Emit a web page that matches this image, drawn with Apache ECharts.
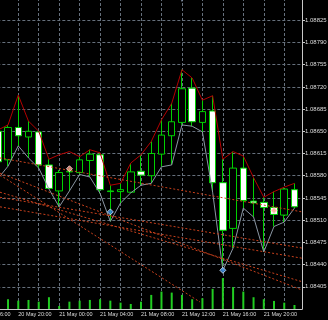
<!DOCTYPE html>
<html><head><meta charset="utf-8">
<script src="https://cdn.jsdelivr.net/npm/echarts@6/dist/echarts.min.js"></script>
<style>html,body{margin:0;padding:0;background:#000;overflow:hidden;width:328px;height:320px;position:relative;}
#c{position:absolute;left:-30px;top:-10px;width:358px;height:330px;}</style>
</head><body><div id="c"></div>
<script>
// Hourly bars, index 0 = 20 May 18:00
const candleIdx = [0,1,2,3,4,5,6,7,8,9,10,11,12,13,14,15,16,17,18,19,20,21,22,23,24,25,26,27,28,29];
const opens  = [1.08650,1.08605,1.08656,1.08641,1.08649,1.08597,1.08556,1.08586,1.08585,1.08604,1.08613,1.08556,1.08555,1.08554,1.08587,1.08580,1.08614,1.08643,1.08664,1.08718,1.08664,1.08682,1.08569,1.08497,1.08592,1.08540,1.08538,1.08530,1.08518,1.08558];
const highs  = [1.08652,1.08660,1.08707,1.08666,1.08650,1.08606,1.08589,1.08592,1.08610,1.08621,1.08616,1.08565,1.08568,1.08600,1.08613,1.08634,1.08668,1.08694,1.08747,1.08734,1.08699,1.08706,1.08606,1.08618,1.08611,1.08577,1.08546,1.08555,1.08562,1.08568];
const lows   = [1.08575,1.08595,1.08627,1.08608,1.08592,1.08559,1.08531,1.08556,1.08582,1.08578,1.08552,1.08508,1.08537,1.08553,1.08565,1.08568,1.08594,1.08597,1.08660,1.08658,1.08649,1.08554,1.08431,1.08466,1.08529,1.08515,1.08460,1.08500,1.08507,1.08529];
const closes = [1.08602,1.08656,1.08643,1.08650,1.08597,1.08560,1.08585,1.08587,1.08605,1.08614,1.08558,1.08555,1.08558,1.08586,1.08581,1.08615,1.08644,1.08665,1.08717,1.08665,1.08681,1.08569,1.08494,1.08592,1.08541,1.08537,1.08530,1.08519,1.08559,1.08531];
// red line (upper) values
const upperLine = [1.08652,1.08660,1.08707,1.08666,1.08650,1.08606,1.08613,1.08618,1.08610,1.08621,1.08616,1.08565,1.08568,1.08600,1.08613,1.08634,1.08668,1.08694,1.08747,1.08734,1.08699,1.08706,1.08606,1.08618,1.08611,1.08577,1.08546,1.08555,1.08562,1.08568];
// tick volumes
const volumes = [1500,1940,1660,1800,1460,2340,600,1460,1660,1800,1940,1660,1260,1000,1460,2800,3460,3260,2800,1940,2140,4000,6140,4340,3460,2340,1940,1600,1260,800];
// x tick labels (bar index where each label starts)
const labelIdx  = [-2,2,6,10,14,18,22,26];
const labelText = ['20 May 16:00','20 May 20:00','21 May 00:00','21 May 04:00','21 May 08:00','21 May 12:00','21 May 16:00','21 May 20:00'];
// price axis
const basePrice = 1.08405;
// dotted trade/trend lines: [startIdx, startPrice, endIdx, endPrice]
const trendLines = [
  [0.215,1.08608,29.74,1.08523],
  [0.215,1.08546,29.74,1.08466],
  [0.215,1.08531,29.74,1.08450],
  [0.215,1.08554,29.74,1.08413],
  [0.215,1.08581,19.77,1.08381],
  [0.215,1.08584,29.74,1.08400]
];
// trade arrows
const sellMarks = [[7,1.08591],[27,1.08525]];
const buyMarks  = [[11,1.08523],[22,1.08431]];
const topMarks  = [[18,1.08858]];

const U = p => Math.round((p - basePrice) * 1e6) / 10;   // price -> points (1e-5)
const candleData = candleIdx.map((x,k)=>[x, U(opens[k]), U(closes[k]), U(lows[k]), U(highs[k])]);
const upperData = candleIdx.map((x,k)=>[x, U(upperLine[k])]);
const lowerData = candleIdx.map((x,k)=>[x, U(lows[k])]);
const volData = candleIdx.map((x,k)=>[x, volumes[k]]);
const gridCol = '#66707c';
const txtCol = '#dcdcdc';

const series = [
  {type:'bar', xAxisIndex:0, yAxisIndex:1, data:volData, barWidth:2, itemStyle:{color:'#22cc22'}, z:1, silent:true},
  {type:'candlestick', data:candleData, encode:{x:0,y:[1,2,3,4]}, barWidth:7, z:3,
    itemStyle:{color:'#000000', color0:'#ffffff', borderColor:'#00d000', borderColor0:'#00d000', borderWidth:1}},
  {type:'line', data:upperData, showSymbol:false, symbol:'none', lineStyle:{color:'#b40000', width:1}, z:4, silent:true},
  {type:'line', data:lowerData, showSymbol:false, symbol:'none', lineStyle:{color:'#8a96a3', width:1}, z:4, silent:true}
];
trendLines.forEach(t=>{
  series.push({type:'line', data:[[t[0],U(t[1])],[t[2],U(t[3])]], symbol:'none', lineStyle:{color:'#c8401c', width:1, type:[2,2]}, z:5, silent:true});
});
series.push({type:'scatter', data:sellMarks.map(m=>[m[0],U(m[1])]), symbol:'diamond', symbolSize:6, itemStyle:{color:'#ff9a8a', borderColor:'#ffe0d8', borderWidth:1}, z:6});
series.push({type:'scatter', data:buyMarks.map(m=>[m[0],U(m[1])]), symbol:'diamond', symbolSize:6, itemStyle:{color:'#3c8ee8', borderColor:'#d8ecff', borderWidth:1}, z:6});
series.push({type:'scatter', data:topMarks.map(m=>[m[0],U(m[1])]), symbol:'triangle', symbolRotate:180, symbolSize:6, itemStyle:{color:'#8a9ab0'}, z:6, clip:false});

const chart = echarts.init(document.getElementById('c'), null, {renderer:'canvas'});
chart.setOption({
  backgroundColor:'#000000',
  animation:false,
  grid:{left:7.34, right:26, top:8, bottom:11, outerBoundsMode:'none', containLabel:false},
  xAxis:{type:'value', min:-2, max:29.736, interval:2, position:'bottom',
    axisLine:{show:true, onZero:false, lineStyle:{color:'#c8c8c8', width:1}},
    axisTick:{show:false},
    splitLine:{show:true, lineStyle:{color:gridCol, type:[3,2], width:1}},
    axisLabel:{show:true, showMinLabel:true, showMaxLabel:false, hideOverlap:false, align:'left', margin:2, color:txtCol, fontSize:5.5, fontFamily:'Liberation Sans',
      formatter:v=>{const r=Math.round(v); if(Math.abs(v-r)>1e-6) return ''; const k=labelIdx.indexOf(r); return k>=0?labelText[k]:'';}}
  },
  yAxis:[
    {type:'value', position:'right', min:-35, max:455, interval:35,
      axisLine:{show:true, onZero:false, lineStyle:{color:'#c8c8c8', width:1}},
      axisTick:{show:true, length:3, lineStyle:{color:'#c8c8c8'}},
      splitLine:{show:true, lineStyle:{color:gridCol, type:[3,2], width:1}},
      axisLabel:{showMinLabel:false, margin:3, color:txtCol, fontSize:6, fontFamily:'Liberation Sans',
        formatter:v=>(basePrice + v/1e5).toFixed(5)}
    },
    {type:'value', show:false, min:0, max:61800, splitLine:{show:false}}
  ],
  series:series
});
</script></body></html>
